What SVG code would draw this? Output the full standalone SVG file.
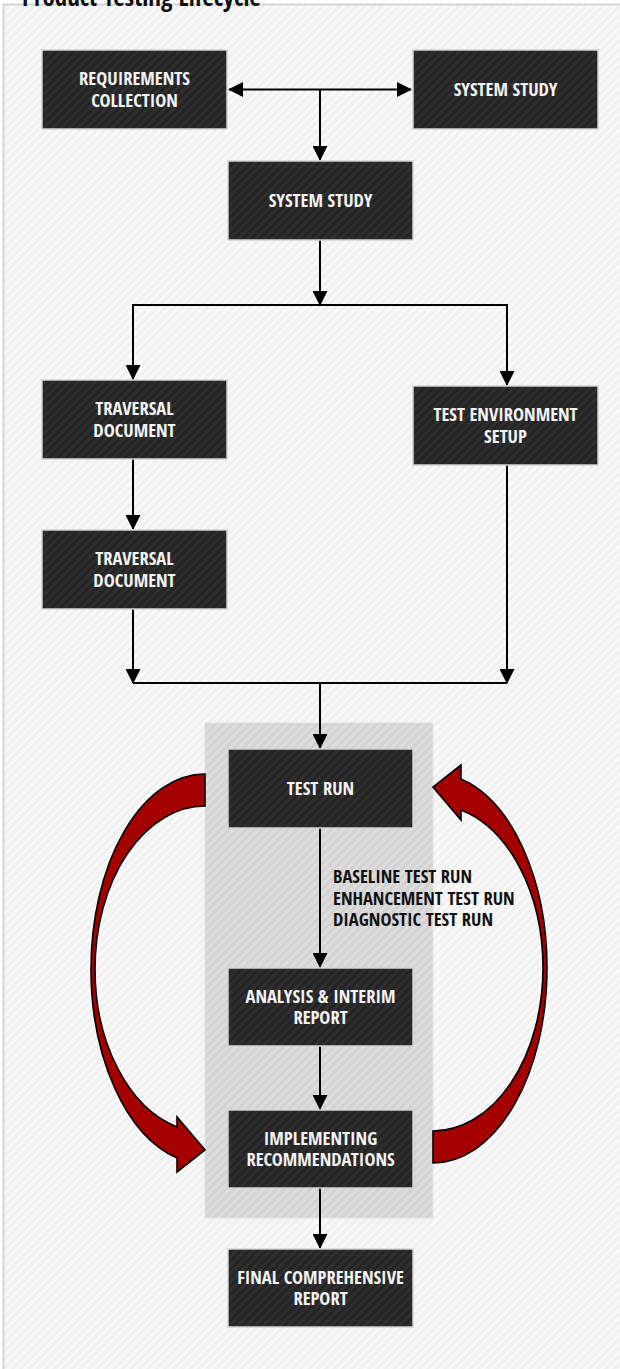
<svg xmlns="http://www.w3.org/2000/svg" width="620" height="1369" viewBox="0 0 620 1369">
<style>
.t{font-family:'Open Sans Condensed','Open Sans','Liberation Sans',sans-serif;font-weight:700;font-stretch:condensed}
.nt{fill:#f4f4f4;font-size:18.5px;text-anchor:middle}
.lb{fill:#111;font-size:18.5px}
.box{fill:url(#dk);stroke:#d4d4d4;stroke-width:1.5}
.c{fill:none;stroke:#000;stroke-width:2}
.ca{fill:none;stroke:#000;stroke-width:2;marker-end:url(#ah)}
.red{fill:#a50000;stroke:#000;stroke-width:1.6;stroke-linejoin:miter}
</style>
<defs>
<pattern id="bg" width="6" height="6" patternUnits="userSpaceOnUse" patternTransform="rotate(45)"><rect width="6" height="6" fill="#f0f0f0"/><rect width="3" height="6" fill="#f9f9f9"/></pattern>
<pattern id="gr" width="6" height="6" patternUnits="userSpaceOnUse" patternTransform="rotate(45)"><rect width="6" height="6" fill="#d2d2d2"/><rect width="3" height="6" fill="#dddddd"/></pattern>
<pattern id="dk" width="6" height="6" patternUnits="userSpaceOnUse" patternTransform="rotate(45)"><rect width="6" height="6" fill="#242424"/><rect width="3" height="6" fill="#2f2f2f"/></pattern>
<marker id="ah" markerUnits="userSpaceOnUse" viewBox="0 0 15 15" markerWidth="15" markerHeight="15" refX="14" refY="7.5" orient="auto-start-reverse"><path d="M0,0 L15,7.5 L0,15 z" fill="#000"/></marker>
</defs>
<rect width="620" height="1369" fill="#ffffff"/>
<rect x="3.5" y="4.5" width="622" height="1370" fill="url(#bg)" stroke="#d6d6d6" stroke-width="2"/>
<text class="t" x="22" y="6" font-size="25" fill="#111">Product Testing Lifecycle</text>
<rect id="loop-area" x="205" y="723" width="228" height="495" fill="url(#gr)" stroke="#e2e2e2" stroke-width="1"/>
<g id="loop-arrows">
<path class="red" d="M433,1163 A114 195 0 0 0 547,968 A114 195 0 0 0 461,779 L461,765 L433,787 L461,820 L461,810 A110 163 0 0 1 543,968 A110 163 0 0 1 433,1131 Z"/>
<path class="red" d="M205,774 A114 195 0 0 0 91,969 A114 195 0 0 0 177,1158 L177,1172 L205,1150 L177,1117 L177,1127 A110 163 0 0 1 95,969 A110 163 0 0 1 205,806 Z"/>
</g>
<g id="connectors">
<path class="c" d="M229,89.5 H411" marker-start="url(#ah)" marker-end="url(#ah)"/>
<path class="ca" d="M320,89.5 V160"/>
<path class="ca" d="M320,240 V305"/>
<path class="ca" d="M320,305 H133 V379"/>
<path class="ca" d="M320,305 H507 V385"/>
<path class="ca" d="M133,459 V529"/>
<path class="ca" d="M133,609 V683"/>
<path class="ca" d="M507,465 V683"/>
<path class="c" d="M133,683 H507"/>
<path class="ca" d="M320,683 V748"/>
<path class="ca" d="M320,828 V967"/>
<path class="ca" d="M320,1046 V1109"/>
<path class="ca" d="M320,1188 V1248"/>
</g>
<g id="n-requirements"><rect class="box" x="42" y="50" width="185" height="79"/><text class="t nt" x="134.5" y="85">REQUIREMENTS</text><text class="t nt" x="134.5" y="106.7">COLLECTION</text></g>
<g id="n-system-study-right"><rect class="box" x="413" y="50" width="185" height="79"/><text class="t nt" x="505.5" y="96">SYSTEM STUDY</text></g>
<g id="n-system-study"><rect class="box" x="228" y="161" width="185" height="79"/><text class="t nt" x="320.5" y="207">SYSTEM STUDY</text></g>
<g id="n-traversal-1"><rect class="box" x="42" y="380" width="185" height="79"/><text class="t nt" x="134.5" y="415">TRAVERSAL</text><text class="t nt" x="134.5" y="436.7">DOCUMENT</text></g>
<g id="n-test-env"><rect class="box" x="413" y="386" width="185" height="79"/><text class="t nt" x="505.5" y="421">TEST ENVIRONMENT</text><text class="t nt" x="505.5" y="442.7">SETUP</text></g>
<g id="n-traversal-2"><rect class="box" x="42" y="530" width="185" height="79"/><text class="t nt" x="134.5" y="565">TRAVERSAL</text><text class="t nt" x="134.5" y="586.7">DOCUMENT</text></g>
<g id="n-test-run"><rect class="box" x="228" y="749" width="185" height="79"/><text class="t nt" x="320.5" y="795">TEST RUN</text></g>
<g id="n-analysis"><rect class="box" x="228" y="968" width="185" height="78"/><text class="t nt" x="320.5" y="1002.5">ANALYSIS &amp; INTERIM</text><text class="t nt" x="320.5" y="1024.2">REPORT</text></g>
<g id="n-implementing"><rect class="box" x="228" y="1110" width="185" height="78"/><text class="t nt" x="320.5" y="1144.5">IMPLEMENTING</text><text class="t nt" x="320.5" y="1166.2">RECOMMENDATIONS</text></g>
<g id="n-final"><rect class="box" x="228" y="1249" width="185" height="78"/><text class="t nt" x="320.5" y="1283.5">FINAL COMPREHENSIVE</text><text class="t nt" x="320.5" y="1305.2">REPORT</text></g>
<g id="run-labels">
<text class="t lb" x="333" y="883">BASELINE TEST RUN</text>
<text class="t lb" x="333" y="904.5">ENHANCEMENT TEST RUN</text>
<text class="t lb" x="333" y="926">DIAGNOSTIC TEST RUN</text>
</g>
</svg>
